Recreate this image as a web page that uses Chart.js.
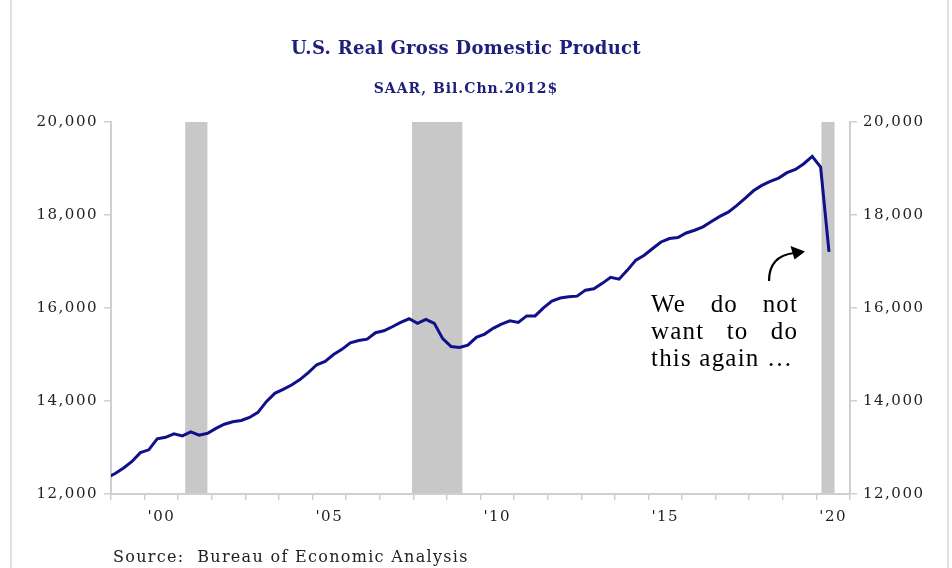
<!DOCTYPE html>
<html>
<head>
<meta charset="utf-8">
<script src="https://cdn.jsdelivr.net/npm/chart.js@4/dist/chart.umd.min.js"></script>
<style>
  html, body { margin: 0; padding: 0; background: #ffffff; }
  canvas { display: block; }
</style>
</head>
<body>
<canvas id="c" width="952" height="568"></canvas>
<script>
// ---------------- data ----------------
const titleText = "U.S. Real Gross Domestic Product";
const subtitleText = "SAAR, Bil.Chn.2012$";
const sourceText = "Source:  Bureau of Economic Analysis";
const noteLines = ["We do not", "want to do", "this again \u2026"];

// quarterly series, first value is 1998 Q4, last is 2020 Q2
const firstYear = 1998;
const firstQuarter = 4;
const gdp = [
  12350,
  12440, 12560, 12700, 12890,
  12950, 13185, 13220, 13295,
  13250, 13335, 13266, 13305,
  13410, 13500, 13555, 13580,
  13645, 13755, 13985, 14165,
  14250, 14345, 14460, 14610,
  14780, 14850, 15000, 15110,
  15250, 15300, 15330, 15468,
  15511, 15597, 15691, 15768,
  15670, 15755, 15670, 15340,
  15170, 15150, 15200, 15369,
  15440, 15562, 15655, 15725,
  15691, 15830, 15830, 16004,
  16150, 16215, 16240, 16255,
  16384, 16412, 16530, 16660,
  16620, 16815, 17030, 17135,
  17280, 17420, 17494, 17515,
  17614, 17672, 17745, 17860,
  17970, 18060, 18200, 18360,
  18520, 18637, 18723, 18794,
  18910, 18981, 19103, 19260,
  19030, 17206
];

// recession shading (fractional years)
const recessionStarts = [2001.21, 2007.96, 2020.15];
const recessionEnds   = [2001.87, 2009.46, 2020.54];

// axes
const xMin = 1999, xMax = 2021;
const tickYears  = [2000, 2005, 2010, 2015, 2020];
const tickLabels = ["'00", "'05", "'10", "'15", "'20"];
const yTicks = [12000, 14000, 16000, 18000, 20000];

// ---------------- build ----------------
const points = gdp.map((v, i) => {
  const qIndex = (firstQuarter - 1) + i;
  const year = firstYear + Math.floor(qIndex / 4);
  const q = qIndex % 4;
  return { x: year + q * 0.25 + 0.125, y: v };
});

const NAVY = '#10108a';
const AXIS = '#cfcfcf';
const SERIF = "'DejaVu Serif', serif";
const TIMES = "'Liberation Serif', 'Times New Roman', Times, serif";

const decor = {
  id: 'decor',
  beforeLayout(chart) {
    chart.ctx.letterSpacing = '1.5px';
  },
  beforeDatasetsDraw(chart) {
    const { ctx, chartArea, scales } = chart;
    ctx.save();
    ctx.fillStyle = '#c8c8c8';
    recessionStarts.forEach((s, i) => {
      const x0 = scales.x.getPixelForValue(s);
      const x1 = scales.x.getPixelForValue(recessionEnds[i]);
      ctx.fillRect(x0, chartArea.top, x1 - x0, chartArea.bottom - chartArea.top - 1);
    });
    ctx.restore();
  },
  afterDraw(chart) {
    const { ctx } = chart;
    ctx.save();
    // frame lines
    ctx.strokeStyle = '#d6d6d6';
    ctx.lineWidth = 1.5;
    ctx.beginPath();
    ctx.moveTo(11, 0); ctx.lineTo(11, 568);
    ctx.moveTo(948, 0); ctx.lineTo(948, 568);
    ctx.stroke();

    // titles
    ctx.fillStyle = '#1e1e7c';
    ctx.textAlign = 'center';
    ctx.textBaseline = 'middle';
    ctx.letterSpacing = '0.3px';
    ctx.font = "bold 18px " + SERIF;
    ctx.fillText(titleText, 466, 49);
    ctx.font = "bold 14px " + SERIF;
    ctx.letterSpacing = '1px';
    ctx.fillText(subtitleText, 466, 89);

    // source
    ctx.fillStyle = '#222222';
    ctx.textAlign = 'left';
    ctx.letterSpacing = '1.3px';
    ctx.font = "16px " + SERIF;
    ctx.fillText(sourceText, 113, 558);

    // annotation (justified)
    ctx.fillStyle = '#000000';
    ctx.textBaseline = 'alphabetic';
    ctx.letterSpacing = '1.2px';
    ctx.font = "25px " + TIMES;
    const left = 651, right = 797;
    const baselines = [312, 338.5, 366];
    noteLines.forEach((line, li) => {
      const words = line.split(' ');
      if (li < noteLines.length - 1 && words.length > 1) {
        const widths = words.map(w => ctx.measureText(w).width - 1.2);
        const total = widths.reduce((a, b) => a + b, 0);
        const gap = (right - left - total) / (words.length - 1);
        let x = left;
        words.forEach((w, wi) => {
          ctx.fillText(w, x, baselines[li]);
          x += widths[wi] + gap;
        });
      } else {
        ctx.fillText(line, left, baselines[li]);
      }
    });

    // curved arrow
    ctx.strokeStyle = '#000000';
    ctx.lineWidth = 2.2;
    ctx.beginPath();
    ctx.moveTo(769, 281);
    ctx.quadraticCurveTo(769, 256, 794, 253);
    ctx.stroke();
    ctx.fillStyle = '#000000';
    ctx.beginPath();
    ctx.moveTo(805, 251.5);
    ctx.lineTo(790.5, 246);
    ctx.lineTo(794.5, 259.5);
    ctx.closePath();
    ctx.fill();
    ctx.restore();
  }
};

const yAxisCommon = {
  type: 'linear',
  min: 12000,
  max: 20000,
  afterBuildTicks: (s) => { s.ticks = yTicks.map(v => ({ value: v })); },
  grid: { drawOnChartArea: false, drawTicks: true, tickLength: 7, color: AXIS, lineWidth: 1.5 },
  border: { display: true, color: AXIS, width: 2 },
  ticks: {
    padding: 6,
    color: '#222222',
    font: { family: SERIF, size: 15 },
    callback: (v) => Number(v).toLocaleString('en-US')
  }
};

new Chart(document.getElementById('c'), {
  type: 'line',
  data: {
    datasets: [{
      data: points,
      borderColor: NAVY,
      borderWidth: 3,
      pointRadius: 0,
      tension: 0,
      fill: false,
      clip: 0
    }]
  },
  options: {
    responsive: false,
    animation: false,
    devicePixelRatio: 1,
    layout: { padding: { top: 122, left: 0, right: 0, bottom: 0 } },
    plugins: { legend: { display: false }, tooltip: { enabled: false }, title: { display: false } },
    scales: {
      x: {
        type: 'linear',
        position: 'bottom',
        min: xMin,
        max: xMax,
        afterFit: (s) => { s.height = 74; },
        grid: { drawOnChartArea: false, drawTicks: true, tickLength: 6, color: AXIS, lineWidth: 1.5 },
        border: { display: true, color: AXIS, width: 2 },
        ticks: {
          stepSize: 1,
          autoSkip: false,
          maxRotation: 0,
          padding: 8,
          labelOffset: 16.8,
          color: '#222222',
          font: { family: SERIF, size: 15 },
          callback: (v) => {
            const k = tickYears.indexOf(Math.round(v));
            return k >= 0 ? tickLabels[k] : '';
          }
        }
      },
      y: Object.assign({}, yAxisCommon, {
        position: 'left',
        afterFit: (s) => { s.width = 111; }
      }),
      y2: Object.assign({}, yAxisCommon, {
        position: 'right',
        afterFit: (s) => { s.width = 102; }
      })
    }
  },
  plugins: [decor]
});
</script>
</body>
</html>
